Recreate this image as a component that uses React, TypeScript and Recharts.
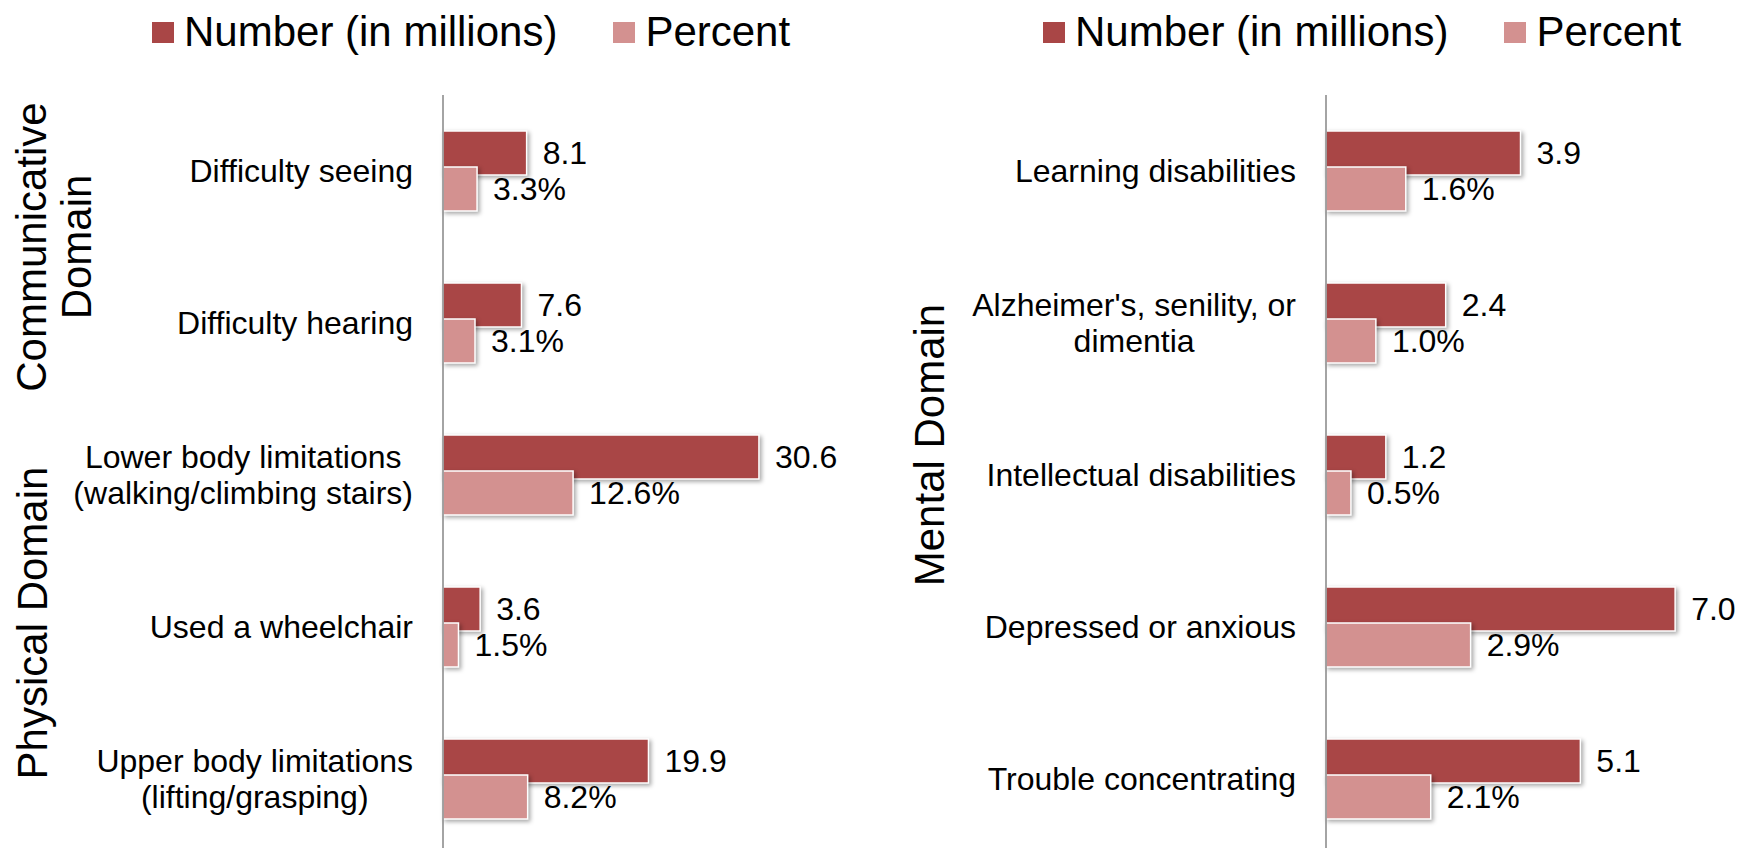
import React from "react";
import { Bar, BarChart, LabelList, Legend, XAxis, YAxis } from "recharts";

const FONT = "'Liberation Sans', Arial, sans-serif";

// left panel: communicative + physical domains
const physicalCategories = [
  "Difficulty seeing",
  "Difficulty hearing",
  "Lower body limitations\n(walking/climbing stairs)",
  "Used a wheelchair",
  "Upper body limitations\n(lifting/grasping)",
];
const physicalNumber = [8.1, 7.6, 30.6, 3.6, 19.9];
const physicalPercent = [3.3, 3.1, 12.6, 1.5, 8.2];

// right panel: mental domain
const mentalCategories = [
  "Learning disabilities",
  "Alzheimer's, senility, or\ndimentia",
  "Intellectual disabilities",
  "Depressed or anxious",
  "Trouble concentrating",
];
const mentalNumber = [3.9, 2.4, 1.2, 7.0, 5.1];
const mentalPercent = [1.6, 1.0, 0.5, 2.9, 2.1];

const seriesNames = ["Number (in millions)", "Percent"];
const seriesColors = ["#A94646", "#D39190"];

const physicalData = physicalCategories.map((c, i) => ({
  category: c,
  number: physicalNumber[i],
  percent: physicalPercent[i],
}));
const mentalData = mentalCategories.map((c, i) => ({
  category: c,
  number: mentalNumber[i],
  percent: mentalPercent[i],
}));

const TICK_SIZE = 32;

let ctx: CanvasRenderingContext2D | null = null;
function textWidth(s: string, size: number) {
  if (!ctx) ctx = document.createElement("canvas").getContext("2d");
  if (!ctx) return s.length * size * 0.5;
  ctx.font = `${size}px ${FONT}`;
  return ctx.measureText(s).width;
}

// multi-line labels are centred as a block, block right-aligned to the axis
function CategoryTick(props: any) {
  const { x, y, payload } = props;
  const lines = String(payload.value).split("\n");
  const w = Math.max(...lines.map((l) => textWidth(l, TICK_SIZE)));
  const cx = x - w / 2;
  return (
    <text x={cx} y={y} textAnchor="middle" fontSize={TICK_SIZE} fill="#000" fontFamily={FONT}>
      {lines.map((l, i) => (
        <tspan key={i} x={cx} y={y + (i - (lines.length - 1) / 2) * 36 + 11}>
          {l}
        </tspan>
      ))}
    </text>
  );
}

function ShadowBar(props: any) {
  const { x, y, width, height, fill } = props;
  if (!width || width <= 0) return null;
  return (
    <rect
      x={x}
      y={y}
      width={width}
      height={height}
      fill={fill}
      stroke="#fff"
      strokeWidth={1.5}
      style={{ filter: "drop-shadow(2px 2px 2px rgba(0,0,0,0.35))" }}
    />
  );
}

function LegendRow() {
  return (
    <div style={{ display: "flex", alignItems: "flex-start", fontFamily: FONT, fontSize: 42, lineHeight: "48px", whiteSpace: "nowrap" }}>
      {seriesNames.map((n, i) => (
        <div key={n} style={{ display: "flex", alignItems: "flex-start", marginRight: i === 0 ? 56 : 0 }}>
          <div style={{ width: 22, height: 21, background: seriesColors[i], marginTop: 14, marginRight: 10, boxShadow: "0 0 0 1px #fff" }} />
          <span style={{ color: "#000" }}>{n}</span>
        </div>
      ))}
    </div>
  );
}

function Panel(props: {
  data: any[];
  width: number;
  axisWidth: number;
  right: number;
  max: number;
  legendLeft: number;
  children?: React.ReactNode;
}) {
  const { data, width, axisWidth, right, max, legendLeft, children } = props;
  return (
    <BarChart
      width={width}
      height={880}
      data={data}
      layout="vertical"
      margin={{ top: 95, right, bottom: 25, left: 0 }}
      barSize={44}
      barGap={-8}
      style={{ fontFamily: FONT }}
    >
      <XAxis type="number" domain={[0, max]} hide />
      <YAxis
        type="category"
        dataKey="category"
        width={axisWidth}
        interval={0}
        tickLine={false}
        tickSize={0}
        tickMargin={30}
        axisLine={{ stroke: "#868686", strokeWidth: 1.5 }}
        tick={<CategoryTick />}
      />
      <Legend
        verticalAlign="middle"
        align="center"
        content={() => <LegendRow />}
        wrapperStyle={{ top: 8, left: legendLeft, width: "auto", height: "auto" }}
      />
      <Bar dataKey="number" name={seriesNames[0]} fill={seriesColors[0]} shape={<ShadowBar />} isAnimationActive={false}>
        <LabelList
          dataKey="number"
          position="right"
          offset={16}
          fontSize={32}
          fill="#000"
          formatter={(v: any) => Number(v).toFixed(1)}
        />
      </Bar>
      <Bar dataKey="percent" name={seriesNames[1]} fill={seriesColors[1]} shape={<ShadowBar />} isAnimationActive={false}>
        <LabelList
          dataKey="percent"
          position="right"
          offset={16}
          fontSize={32}
          fill="#000"
          formatter={(v: any) => `${Number(v).toFixed(1)}%`}
        />
      </Bar>
      {children}
    </BarChart>
  );
}

function GroupTitle(props: { lines: string[]; x: number; y: number }) {
  const { lines, x, y } = props;
  return (
    <g>
      {lines.map((l, i) => (
        <text
          key={l}
          transform={`translate(${x + i * 45 + 15},${y}) rotate(-90)`}
          textAnchor="middle"
          fontSize={42}
          fontFamily={FONT}
          fill="#000"
        >
          {l}
        </text>
      ))}
    </g>
  );
}

export default function App() {
  return (
    <div style={{ position: "absolute", left: 0, top: 0, width: 1740, height: 848, overflow: "hidden", background: "#fff" }}>
      <div style={{ position: "absolute", left: 0, top: 0 }}>
        <Panel data={physicalData} width={880} axisWidth={443} right={24} max={40} legendLeft={152}>
          <GroupTitle lines={["Communicative", "Domain"]} x={31} y={247} />
          <GroupTitle lines={["Physical Domain"]} x={32} y={623} />
        </Panel>
      </div>
      <div style={{ position: "absolute", left: 880, top: 0 }}>
        <Panel data={mentalData} width={860} axisWidth={446} right={15} max={8} legendLeft={163}>
          <GroupTitle lines={["Mental Domain"]} x={49} y={445} />
        </Panel>
      </div>
    </div>
  );
}
